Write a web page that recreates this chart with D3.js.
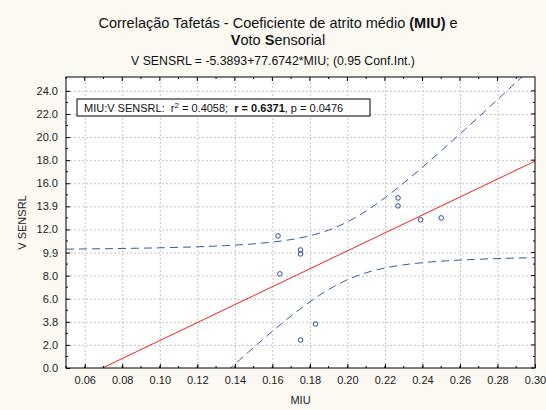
<!DOCTYPE html>
<html>
<head>
<meta charset="utf-8">
<script src="https://cdn.jsdelivr.net/npm/d3@7"></script>
<style>
  body { margin: 0; background: #fbf9f1; }
  svg { display: block; font-family: "Liberation Sans", Arial, sans-serif; }
  .tick text { font-size: 11px; fill: #222; }
  .grid line { stroke: #c4c4c4; stroke-dasharray: 2,2; }
  .grid path { display: none; }
</style>
</head>
<body>
<div id="chart"></div>
<script>
// MIU (x) vs V SENSRL (y)
const miu    = [0.163, 0.175, 0.175, 0.164, 0.183, 0.175, 0.227, 0.227, 0.239, 0.250];
const vsens  = [11.44, 10.22, 9.88, 8.15, 3.81, 2.43, 14.73, 14.04, 12.83, 13.0];
const xTicks = [0.06, 0.08, 0.10, 0.12, 0.14, 0.16, 0.18, 0.20, 0.22, 0.24, 0.26, 0.28, 0.30];
const yTicks = [0, 2, 4, 6, 8, 10, 12, 14, 16, 18, 20, 22, 24];
const yTickLabels = ['0.0', '2.0', '3.8', '6.0', '8.0', '9.9', '12.0', '13.9', '16.0', '18.0', '20.0', '22.0', '24.0'];
const intercept = -5.3893;
const slope = 77.6742;
const tCrit = 2.306; // t(0.975, 8)

let dimensions = {
  width: 546,
  height: 410,
  margin: { top: 77, right: 11, bottom: 42, left: 66 }
}
dimensions.boundedWidth = dimensions.width - dimensions.margin.left - dimensions.margin.right
dimensions.boundedHeight = dimensions.height - dimensions.margin.top - dimensions.margin.bottom

const svg = d3.select('#chart').append('svg')
  .attr('width', dimensions.width)
  .attr('height', dimensions.height)

const bounds = svg.append('g')
  .attr('transform', `translate(${dimensions.margin.left},${dimensions.margin.top})`)

const xScale = d3.scaleLinear().domain([0.05, 0.30]).range([0, dimensions.boundedWidth])
const yScale = d3.scaleLinear().domain([0, 25.2]).range([dimensions.boundedHeight, 0])

bounds.append('rect')
  .attr('width', dimensions.boundedWidth)
  .attr('height', dimensions.boundedHeight)
  .attr('fill', 'white')

bounds.append('clipPath').attr('id', 'clip')
  .append('rect')
  .attr('width', dimensions.boundedWidth)
  .attr('height', dimensions.boundedHeight)

//// Grid
bounds.append('g').attr('class', 'grid')
  .attr('transform', `translate(0,${dimensions.boundedHeight})`)
  .call(d3.axisBottom(xScale).tickValues(xTicks.slice(0, -1)).tickSize(-dimensions.boundedHeight).tickFormat(''))
bounds.append('g').attr('class', 'grid')
  .call(d3.axisLeft(yScale).tickValues(yTicks.slice(1)).tickSize(-dimensions.boundedWidth).tickFormat(''))

//// Regression line + confidence bands
const n = miu.length
const xMean = d3.mean(miu)
const sxx = d3.sum(miu, d => (d - xMean) ** 2)
const sse = d3.sum(miu.map((d, i) => (vsens[i] - (intercept + slope * d)) ** 2))
const s = Math.sqrt(sse / (n - 2))
const xs = d3.range(0.05, 0.3001, 0.0025)
const half = x => tCrit * s * Math.sqrt(1 / n + (x - xMean) ** 2 / sxx)

const plot = bounds.append('g').attr('clip-path', 'url(#clip)')

plot.append('path')
  .datum([0.05, 0.30])
  .attr('d', d3.line().x(d => xScale(d)).y(d => yScale(intercept + slope * d)))
  .attr('fill', 'none')
  .attr('stroke', '#ee2222')
  .attr('stroke-width', 1)

const bandLine = sign => d3.line()
  .x(d => xScale(d))
  .y(d => yScale(intercept + slope * d + sign * half(d)))

;[1, -1].forEach(sign => {
  plot.append('path')
    .datum(xs)
    .attr('d', bandLine(sign))
    .attr('fill', 'none')
    .attr('stroke', '#3355aa')
    .attr('stroke-width', 1)
    .attr('stroke-dasharray', '8,5')
})

//// Points
plot.selectAll('circle')
  .data(miu)
  .join('circle')
  .attr('cx', d => xScale(d))
  .attr('cy', (d, i) => yScale(vsens[i]))
  .attr('r', 2.3)
  .attr('fill', 'none')
  .attr('stroke', '#2a4aa8')
  .attr('stroke-width', 1)

//// Axes (ticks inside, all four sides)
const minorX = d3.range(0.05, 0.30, 0.01).map(d => +d.toFixed(2))
const minorY = d3.range(1, 25, 2)

const xAxis = bounds.append('g')
  .attr('transform', `translate(0,${dimensions.boundedHeight})`)
  .call(d3.axisBottom(xScale).tickValues(xTicks).tickSizeInner(-4).tickSizeOuter(0).tickPadding(8).tickFormat(d3.format('.2f')))
xAxis.select('.domain').remove()

const yAxis = bounds.append('g')
  .call(d3.axisLeft(yScale).tickValues(yTicks).tickSizeInner(-4).tickSizeOuter(0).tickPadding(8).tickFormat((d, i) => yTickLabels[i]))
yAxis.select('.domain').remove()

const tickMarks = bounds.append('g').attr('stroke', 'black')
minorX.forEach(d => {
  const len = xTicks.some(t => Math.abs(t - d) < 1e-6) ? 4 : 2
  tickMarks.append('line').attr('x1', xScale(d)).attr('x2', xScale(d)).attr('y1', 0).attr('y2', len)
  tickMarks.append('line').attr('x1', xScale(d)).attr('x2', xScale(d)).attr('y1', dimensions.boundedHeight).attr('y2', dimensions.boundedHeight - 2)
})
yTicks.concat(minorY).forEach(d => {
  const len = yTicks.includes(d) ? 4 : 2
  tickMarks.append('line').attr('x1', dimensions.boundedWidth).attr('x2', dimensions.boundedWidth - len).attr('y1', yScale(d)).attr('y2', yScale(d))
  if (!yTicks.includes(d)) {
    tickMarks.append('line').attr('x1', 0).attr('x2', 2).attr('y1', yScale(d)).attr('y2', yScale(d))
  }
})

bounds.append('rect')
  .attr('width', dimensions.boundedWidth)
  .attr('height', dimensions.boundedHeight)
  .attr('fill', 'none')
  .attr('stroke', 'black')

//// Axis titles
svg.append('text')
  .attr('x', dimensions.margin.left + dimensions.boundedWidth / 2)
  .attr('y', 404)
  .attr('text-anchor', 'middle')
  .style('font-size', '11px')
  .style('fill', '#222')
  .text('MIU')

svg.append('text')
  .attr('transform', `translate(26,${dimensions.margin.top + dimensions.boundedHeight / 2}) rotate(-90)`)
  .attr('text-anchor', 'middle')
  .style('font-size', '11px')
  .style('fill', '#222')
  .text('V SENSRL')

//// Title
const t1 = svg.append('text').attr('x', 278).attr('y', 28).attr('text-anchor', 'middle').style('font-size', '14.5px').style('fill', '#111')
t1.append('tspan').text('Correlação Tafetás - Coeficiente de atrito médio ')
t1.append('tspan').style('font-weight', 'bold').text('(MIU)')
t1.append('tspan').text(' e')

const t2 = svg.append('text').attr('x', 278).attr('y', 45).attr('text-anchor', 'middle').style('font-size', '14.5px').style('fill', '#111')
t2.append('tspan').style('font-weight', 'bold').text('V')
t2.append('tspan').text('oto ')
t2.append('tspan').style('font-weight', 'bold').text('S')
t2.append('tspan').text('ensorial')

svg.append('text')
  .attr('x', 273).attr('y', 65)
  .attr('text-anchor', 'middle')
  .style('font-size', '12.3px')
  .style('fill', '#111')
  .text('V SENSRL = -5.3893+77.6742*MIU; (0.95 Conf.Int.)')

//// Stats box
const box = svg.append('g').attr('transform', 'translate(77,99)')
box.append('rect').attr('width', 293).attr('height', 17).attr('fill', 'white').attr('stroke', 'black')
const st = box.append('text').attr('x', 7).attr('y', 12.5).style('font-size', '11px').style('fill', '#111')
st.append('tspan').text('MIU:V SENSRL:\u00a0\u00a0r')
st.append('tspan').attr('dy', -4).style('font-size', '8px').text('2')
st.append('tspan').attr('dy', 4).text(' = 0.4058;\u00a0\u00a0')
st.append('tspan').style('font-weight', 'bold').text('r = 0.6371')
st.append('tspan').text(', p = 0.0476')
</script>
</body>
</html>
